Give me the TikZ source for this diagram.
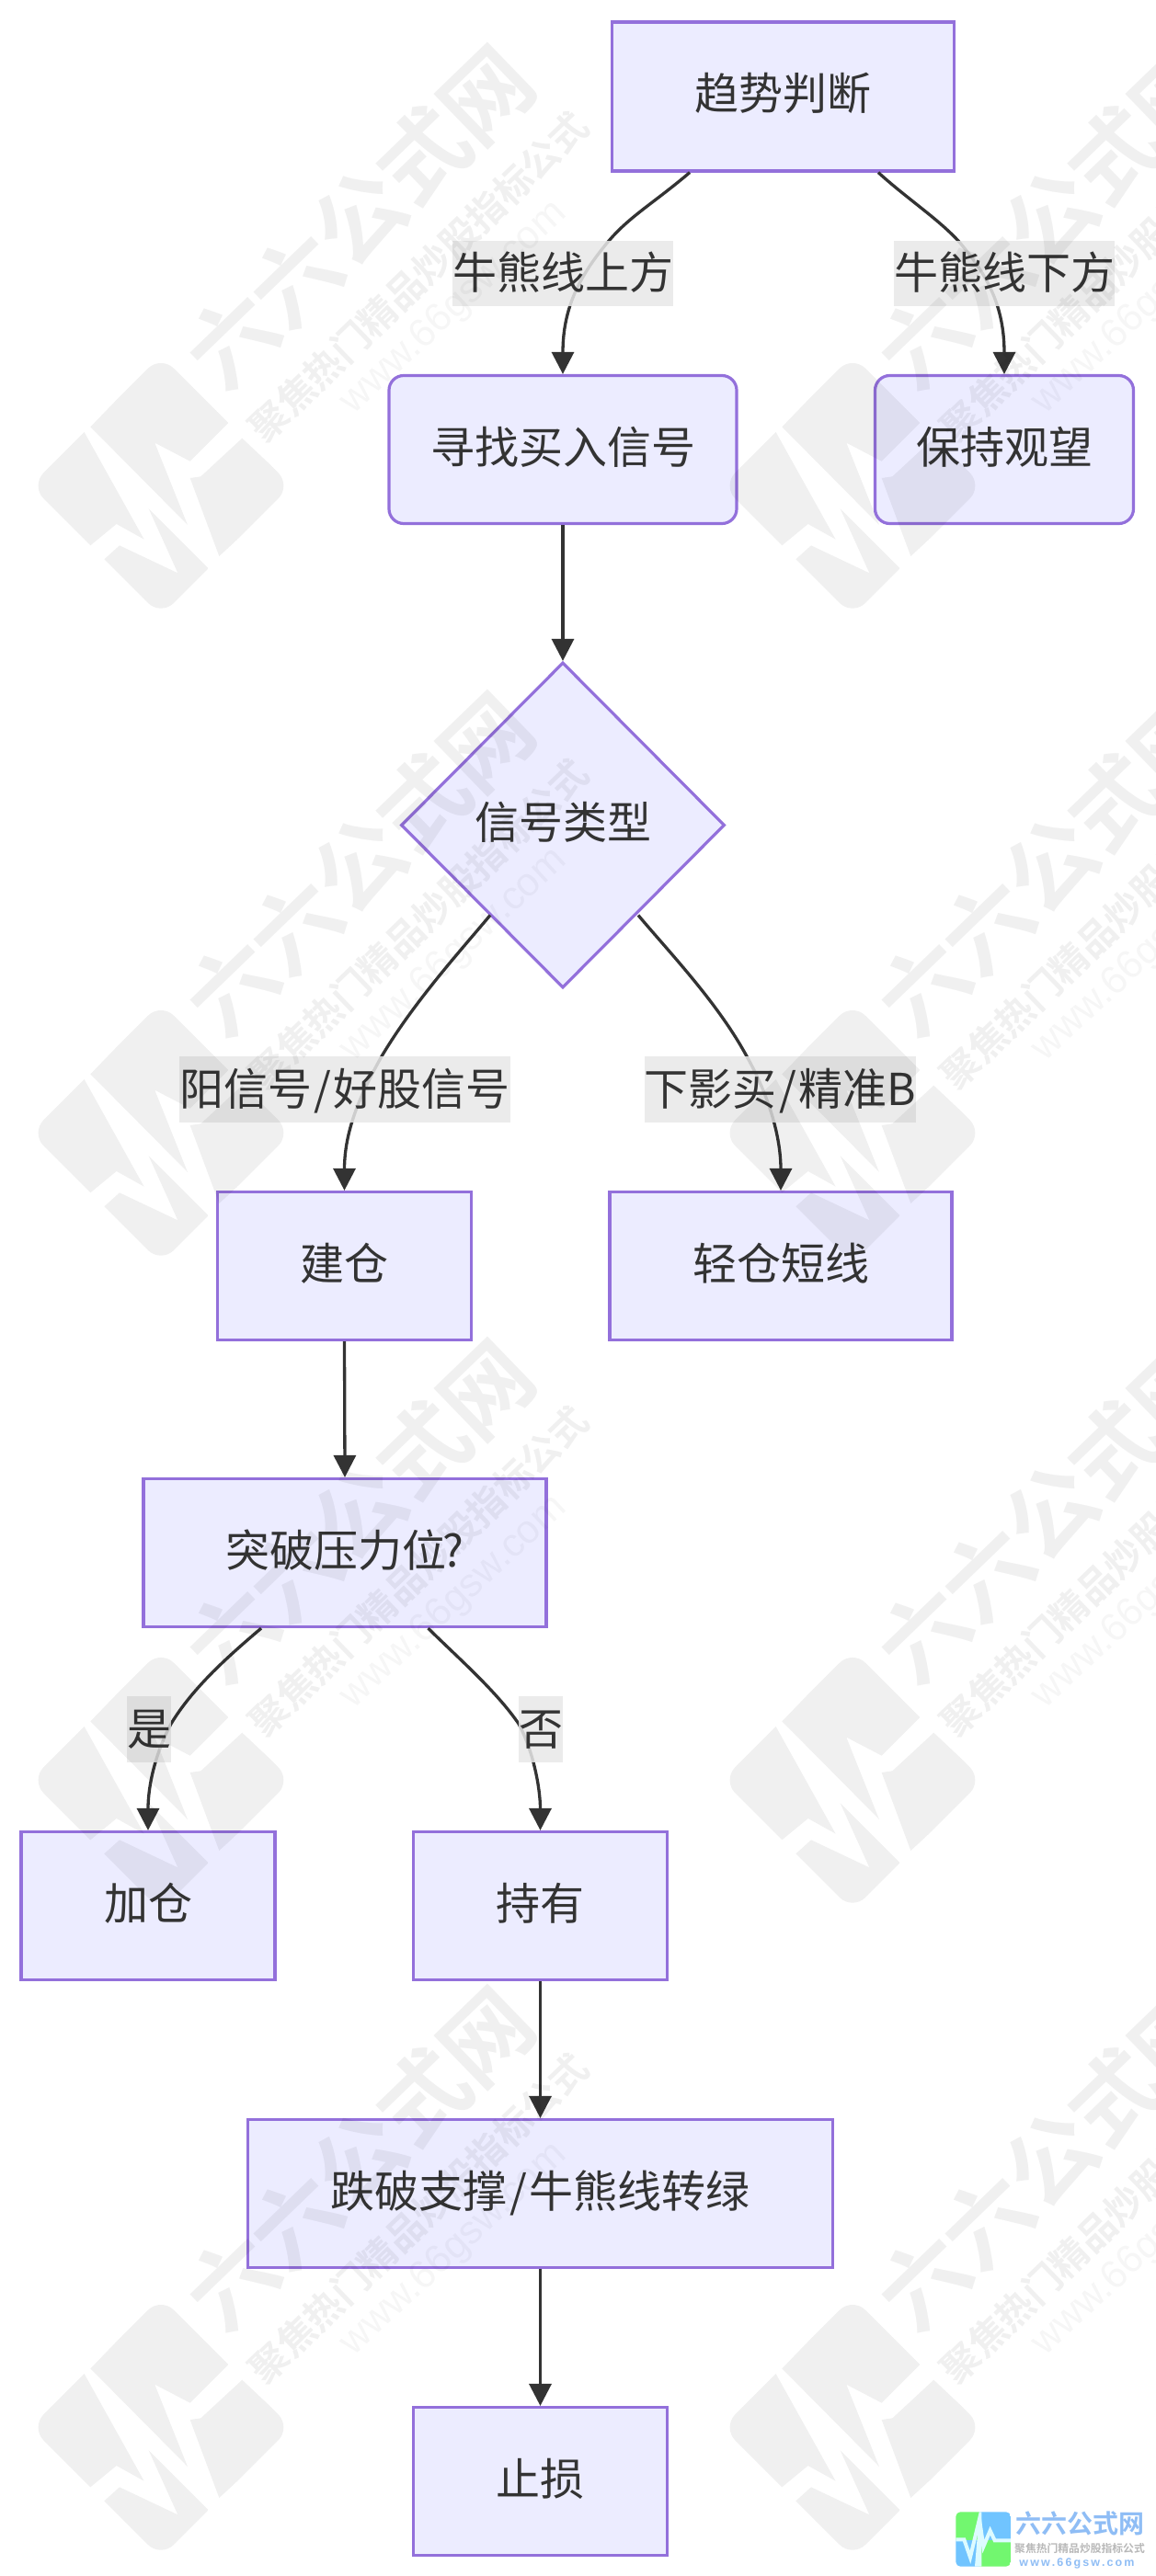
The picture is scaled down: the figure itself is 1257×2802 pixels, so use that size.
\documentclass[tikz,border=0pt]{standalone}
\usepackage{fontspec}
\setmainfont{Noto Sans CJK SC}
\newfontfamily\wmfont{Noto Sans CJK SC Bold}
\newfontfamily\latinreg{Liberation Sans}
\newfontfamily\latinbold{Liberation Sans Bold}
\usetikzlibrary{arrows.meta,shapes.geometric}
\definecolor{nodefill}{HTML}{ECECFF}
\definecolor{nodeline}{HTML}{9370DB}
\definecolor{inkdark}{HTML}{333333}
\definecolor{labelbg}{HTML}{E8E8E8}
\definecolor{logogreen}{HTML}{72F76F}
\definecolor{logoblue}{HTML}{70C4FF}
\definecolor{logopale}{HTML}{DDFBFF}
\definecolor{markblue}{HTML}{8FBDF5}
\definecolor{markgrey}{HTML}{B8B8B8}
\newcommand{\wideslash}{\kern2.5pt/\kern2.5pt}
\tikzset{
  flowbox/.style={draw=nodeline,fill=nodefill,line width=3.2pt,inner sep=0pt,text=inkdark,
    text height=36pt,text depth=6pt,font=\fontsize{48}{58}\selectfont},
  roundbox/.style={flowbox,rounded corners=16pt},
  choice/.style={flowbox,diamond,aspect=1},
  edgeline/.style={draw=inkdark,line width=3.3pt,-{Triangle[length=24pt,width=24pt]}},
  edgelabel/.style={fill=labelbg,fill opacity=.85,text opacity=1,text=inkdark,inner sep=0pt,
    text height=38pt,text depth=4pt,font=\fontsize{48}{58}\selectfont},
  wmtext/.style={text=black,inner sep=0pt,text opacity=.06},
  wmshape/.style={fill=black,fill opacity=.06}
}
\begin{document}
\begin{tikzpicture}[x=1pt,y=-1pt]
\useasboundingbox (0,0) rectangle (1257,2802);
\fill[white] (0,0) rectangle (1257,2802);
% nodes
\node[flowbox,minimum width=372pt,minimum height=162pt] (A) at (851.5,105) {趋势判断};
\node[roundbox,minimum width=378pt,minimum height=161pt] (B) at (612,489) {寻找买入信号};
\node[roundbox,minimum width=281pt,minimum height=161pt] (C) at (1092,489) {保持观望};
\node[choice,minimum width=352pt,minimum height=354pt] (D) at (612,897.5) {信号类型};
\node[flowbox,minimum width=276pt,minimum height=161pt] (E) at (374.5,1377) {建仓};
\node[flowbox,minimum width=372pt,minimum height=161pt] (F) at (849,1377) {轻仓短线};
\node[flowbox,minimum width=438pt,minimum height=161pt] (G) at (375,1689) {突破压力位\kern-4pt ?};
\node[flowbox,minimum width=276pt,minimum height=161pt] (H) at (161,2073) {加仓};
\node[flowbox,minimum width=276pt,minimum height=161pt] (I) at (587.5,2073) {持有};
\node[flowbox,minimum width=636pt,minimum height=161pt] (J) at (587.5,2386) {跌破支撑\wideslash 牛熊线转绿};
\node[flowbox,minimum width=276pt,minimum height=161pt] (K) at (587.5,2699) {止损};
% connectors
\draw[edgeline] ([xshift=-101.5pt]A.south) .. controls (712,220) and (685,235) .. (662,262) .. controls (630,300) and (612,335) .. (B.north);
\draw[edgeline] ([xshift=103.5pt]A.south) .. controls (985,215) and (1020,238) .. (1042,262) .. controls (1075,300) and (1092,335) .. (C.north);
\draw[edgeline] (B.south) -- (D.north);
\draw[edgeline] ([shift={(-79pt,-98pt)}]D.center) .. controls (500,1035) and (450,1090) .. (415,1149) .. controls (392,1190) and (374.5,1230) .. (E.north);
\draw[edgeline] ([shift={(82pt,-98pt)}]D.center) .. controls (727,1035) and (780,1090) .. (812,1149) .. controls (835,1190) and (849,1235) .. (F.north);
\draw[edgeline] (E.south) -- (G.north);
\draw[edgeline] ([xshift=-91pt]G.south) .. controls (250,1800) and (210,1835) .. (186,1875) .. controls (170,1905) and (161,1940) .. (H.north);
\draw[edgeline] ([xshift=90.5pt]G.south) .. controls (500,1805) and (540,1840) .. (564,1875) .. controls (580,1905) and (587.5,1945) .. (I.north);
\draw[edgeline] (I.south) -- (J.north);
\draw[edgeline] (J.south) -- (K.north);
% connector labels
\node[edgelabel,minimum width=240pt,minimum height=71pt] (LAB) at (612,297.5) {牛熊线上方};
\node[edgelabel,minimum width=240pt,minimum height=71pt] (LAC) at (1092,297.5) {牛熊线下方};
\node[edgelabel,minimum width=360pt,minimum height=72pt] (LDE) at (375,1185) {阳信号\wideslash 好股信号};
\node[edgelabel,minimum width=291pt,minimum height=72pt] (LDF) at (848.5,1185) {下影买\wideslash 精准B};
\node[edgelabel,minimum width=48pt,minimum height=72pt] (LGH) at (162,1881) {是};
\node[edgelabel,minimum width=48pt,minimum height=72pt] (LGI) at (588,1881) {否};
% watermark tiles
\begin{scope}
\clip (0,0) rectangle (1257,2802);
\foreach \c in {0,1} \foreach \r in {0,1,2,3} {
  \begin{scope}[shift={(\c*752,\r*704)}]
    \node[wmtext,rotate=44,font=\wmfont\fontsize{96}{96}\selectfont] (WA\c\r) at (391,236) {六六公式网};
    \node[wmtext,rotate=44,font=\wmfont\fontsize{41}{41}\selectfont] (WB\c\r) at (455,301) {聚焦热门精品炒股指标公式};
    \node[wmtext,rotate=43,text opacity=.035,font=\latinreg\fontsize{43}{43}\selectfont] (WC\c\r) at (494,335) {www.66gsw.com};
    \begin{scope}[shift={(30,385)},x=.3333pt,y=-.3333pt]
      \clip[rounded corners=20pt] (435,5) -- (860,430) -- (435,855) -- (10,430) -- cycle;
      \fill[wmshape] (205,238) -- (435,0) -- (655,225) -- (530,350) -- (415,290) -- (522,558) -- cycle;
      \fill[wmshape] (700,275) -- (870,435) -- (625,660) -- (530,405) -- (565,400) -- cycle;
      \fill[wmshape] (185,255) -- (0,430) -- (205,625) -- (290,555) -- (380,605) -- cycle;
      \fill[wmshape] (250,670) -- (300,625) -- (490,715) -- (395,505) -- (590,700) -- (430,870) -- cycle;
    \end{scope}
  \end{scope}
}
\end{scope}
% corner mark
\begin{scope}[shift={(950,2600)},x=.3333pt,y=-.3333pt]
  \begin{scope}
    \clip[rounded corners=5pt] (268,397) rectangle (447,575);
    \fill[logogreen] (268,397) rectangle (345,490);
    \fill[logoblue] (345,397) rectangle (447,490);
    \fill[logoblue] (268,490) rectangle (345,575);
    \fill[logogreen] (345,490) rectangle (447,575);
    \fill[logopale] (345,397) -- (352,397) -- (352,575) -- (330,575) -- cycle;
    \draw[logopale,line width=4pt] (268,487) -- (295,487) -- (315,545) -- (345,420) -- (358,510) -- (380,458) -- (395,490) -- (447,490);
  \end{scope}
\end{scope}
\node[inner sep=0pt,text=markblue,font=\wmfont\fontsize{28}{28}\selectfont] (M1) at (1174,2745) {六六公式网};
\node[inner sep=0pt,text=markgrey,font=\wmfont\fontsize{11.8}{12}\selectfont] (M2) at (1174,2772) {聚焦热门精品炒股指标公式};
\node[inner sep=0pt,text=markblue,font=\latinbold\fontsize{12.5}{13}\selectfont] (M3) at (1171,2788) {w\,w\,w\,.\,6\,6\,g\,s\,w\,.\,c\,o\,m};
\end{tikzpicture}
\end{document}
